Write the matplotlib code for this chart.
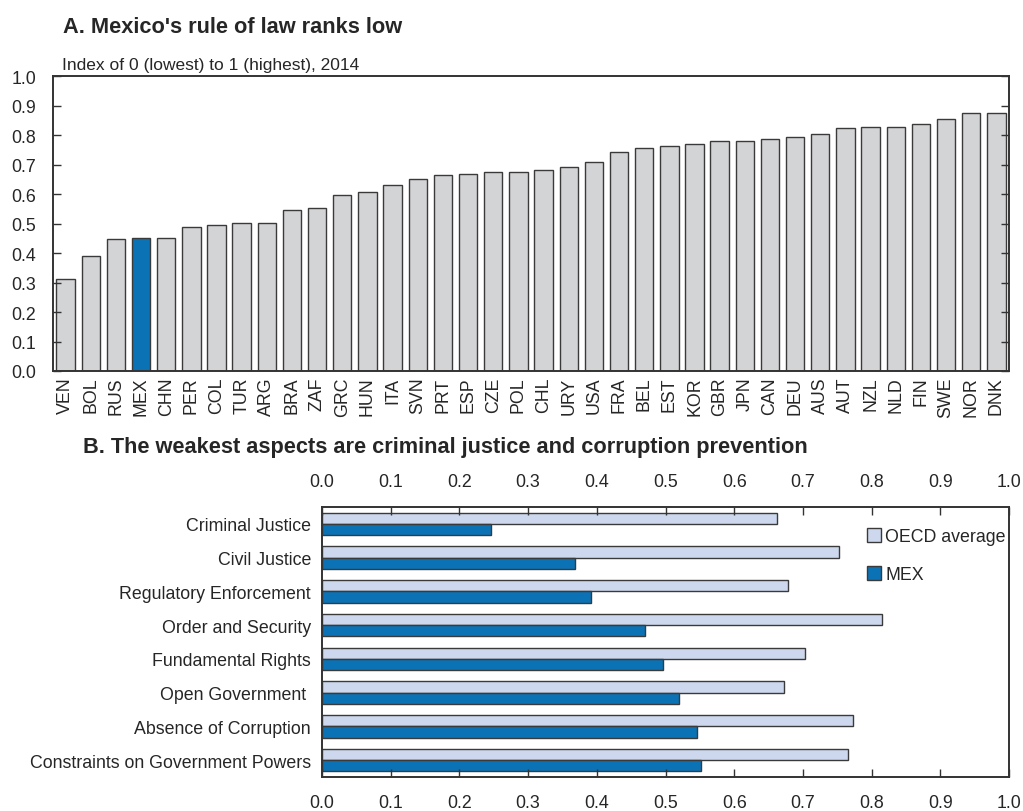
import numpy as np
import matplotlib
matplotlib.use("Agg")
import matplotlib.pyplot as plt


# Panel A: rule of law index, 2014
COUNTRIES = [
    "VEN", "BOL", "RUS", "MEX", "CHN", "PER", "COL", "TUR", "ARG", "BRA",
    "ZAF", "GRC", "HUN", "ITA", "SVN", "PRT", "ESP", "CZE", "POL", "CHL",
    "URY", "USA", "FRA", "BEL", "EST", "KOR", "GBR", "JPN", "CAN", "DEU",
    "AUS", "AUT", "NZL", "NLD", "FIN", "SWE", "NOR", "DNK",
]
RULE_OF_LAW = [
    0.311, 0.390, 0.447, 0.450, 0.453, 0.489, 0.495, 0.503, 0.504, 0.546,
    0.554, 0.596, 0.609, 0.632, 0.651, 0.665, 0.670, 0.676, 0.676, 0.681,
    0.693, 0.710, 0.743, 0.756, 0.765, 0.769, 0.780, 0.780, 0.786, 0.796,
    0.803, 0.826, 0.828, 0.828, 0.839, 0.854, 0.877, 0.877,
]
HIGHLIGHT = "MEX"

# Panel B: sub-factors
ASPECTS = [
    "Criminal Justice", "Civil Justice", "Regulatory Enforcement",
    "Order and Security", "Fundamental Rights", "Open Government ",
    "Absence of Corruption", "Constraints on Government Powers",
]
OECD_AVG = [0.663, 0.753, 0.679, 0.815, 0.703, 0.673, 0.773, 0.765]
MEX = [0.246, 0.368, 0.392, 0.470, 0.497, 0.519, 0.546, 0.552]

TICKS = np.round(np.arange(0, 1.01, 0.1), 1)

GREY = "#d3d4d6"
BLUE = "#0b72b5"
LIGHT = "#cdd8ee"
EDGE = "#3a3a3a"
TXT = "#262626"
FS = 12.8

plt.rcParams["font.family"] = ["Liberation Sans", "DejaVu Sans"]
plt.rcParams["text.color"] = TXT
plt.rcParams["axes.edgecolor"] = "#333333"
plt.rcParams["axes.linewidth"] = 1.4
plt.rcParams["xtick.color"] = "#333333"
plt.rcParams["ytick.color"] = "#333333"
plt.rcParams["xtick.labelcolor"] = TXT
plt.rcParams["ytick.labelcolor"] = TXT

fig = plt.figure(figsize=(10.23, 8.12), dpi=100)

# --- panel A
ax1 = fig.add_axes([0.0518, 0.5419, 0.9345, 0.3627])
x = np.arange(len(COUNTRIES))
colors = [BLUE if c == HIGHLIGHT else GREY for c in COUNTRIES]
ax1.bar(x, RULE_OF_LAW, width=0.73, color=colors, edgecolor=EDGE, linewidth=1.0)
ax1.set_xlim(-0.5, len(COUNTRIES) - 0.5)
ax1.set_ylim(0, 1.0)
ax1.set_yticks(TICKS)
ax1.set_yticklabels([f"{t:.1f}" for t in TICKS], fontsize=FS)
ax1.set_xticks(x)
ax1.set_xticklabels(COUNTRIES, rotation=90, fontsize=FS)
ax1.tick_params(axis="x", length=0, pad=4)
ax1.tick_params(axis="y", direction="in", length=6, width=1, right=True, pad=12)

fig.text(0.0616, 0.9667, "A. Mexico's rule of law ranks low",
         fontsize=15.7, fontweight="bold", va="center", ha="left")
fig.text(0.0606, 0.919, "Index of 0 (lowest) to 1 (highest), 2014",
         fontsize=12.5, va="center", ha="left")

# --- panel B
ax2 = fig.add_axes([0.3148, 0.0419, 0.6715, 0.3325])
y = np.arange(len(ASPECTS))
h = 0.335
ax2.barh(y - h / 2, OECD_AVG, height=h, color=LIGHT, edgecolor=EDGE,
         linewidth=1.0, label="OECD average")
ax2.barh(y + h / 2, MEX, height=h, color=BLUE, edgecolor=EDGE,
         linewidth=1.0, label="MEX")
ax2.set_ylim(len(ASPECTS) - 0.5, -0.5)
ax2.set_xlim(0, 1.0)
ax2.set_yticks(y)
ax2.set_yticklabels(ASPECTS, fontsize=FS)
ax2.tick_params(axis="y", length=0, pad=8)
ax2.set_xticks(TICKS)
ax2.set_xticklabels([f"{t:.1f}" for t in TICKS], fontsize=FS)
ax2.tick_params(axis="x", direction="in", length=6, width=1,
                top=True, labeltop=True, pad=12)

ax2.legend(loc="upper left", bbox_to_anchor=(0.78, 0.955), frameon=False,
           fontsize=FS, handlelength=0.8, handleheight=0.8,
           handletextpad=0.25, labelspacing=1.2, borderpad=0)

fig.text(0.081, 0.4495, "B. The weakest aspects are criminal justice and corruption prevention",
         fontsize=15.7, fontweight="bold", va="center", ha="left")

fig.savefig("out.png", dpi=100)
plt.close(fig)
